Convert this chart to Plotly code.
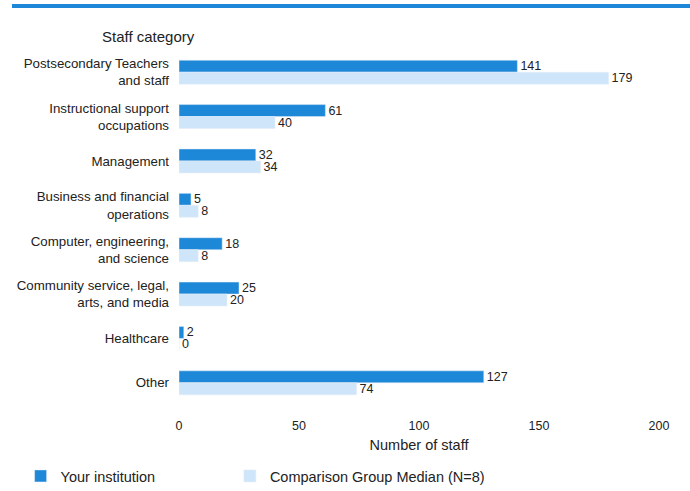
import plotly.graph_objects as go

# data
categories = [
    "Postsecondary Teachers<br>and staff",
    "Instructional support<br>occupations",
    "Management",
    "Business and financial<br>operations",
    "Computer, engineering,<br>and science",
    "Community service, legal,<br>arts, and media",
    "Healthcare",
    "Other",
]
your_institution = [141, 61, 32, 5, 18, 25, 2, 127]
comparison_median = [179, 40, 34, 8, 8, 20, 0, 74]
x_ticks = [0, 50, 100, 150, 200]

BLUE = "#1e88d8"
LIGHT = "#cfe6fa"
FONT = "Liberation Sans, Arial, sans-serif"

fig = go.Figure()
fig.add_trace(go.Bar(
    y=categories, x=your_institution, orientation="h",
    name="Your institution", marker_color=BLUE, legend="legend",
    text=your_institution, textposition="outside", constraintext="none",
    textfont=dict(size=12.5, color="#222"), cliponaxis=False,
))
fig.add_trace(go.Bar(
    y=categories, x=comparison_median, orientation="h",
    name="Comparison Group Median (N=8)", marker_color=LIGHT, legend="legend2",
    text=comparison_median, textposition="outside", constraintext="none",
    textfont=dict(size=12.5, color="#222"), cliponaxis=False,
))

legend_style = dict(orientation="h", y=-0.2, xanchor="left", yanchor="middle",
                    font=dict(size=14.5), bgcolor="rgba(0,0,0,0)")

fig.update_layout(
    width=690, height=491,
    margin=dict(l=179, r=31, t=50, b=86, autoexpand=False),
    barmode="group", bargap=0.46, bargroupgap=0,
    plot_bgcolor="white", paper_bgcolor="white",
    font=dict(family=FONT, size=12, color="#222"),
    showlegend=True,
    legend=dict(x=-0.33, **legend_style),
    legend2=dict(x=0.106, **legend_style),
    xaxis=dict(range=[0, 200], tickvals=x_ticks, showgrid=False, zeroline=False,
               showline=False, ticks="", tickfont=dict(size=12.5),
               ticklabelstandoff=11, automargin=False,
               title=dict(text="Number of staff", font=dict(size=14.5), standoff=8)),
    yaxis=dict(autorange="reversed", showgrid=False, showline=False, ticks="",
               ticklabelstandoff=9, tickfont=dict(size=13.3), automargin=False),
)

# header text and top rule
fig.add_annotation(text="Staff category", xref="paper", yref="paper",
                   x=-0.165, y=1.037, xanchor="left", yanchor="middle",
                   showarrow=False, font=dict(size=15))
fig.add_shape(type="line", xref="paper", yref="paper",
              x0=-0.348, x1=1.07, y0=1.124, y1=1.124,
              line=dict(color=BLUE, width=4))

# drop the default 8px body margin so the figure fills the window
fig.write_html("out.html", config={"displayModeBar": False},
               post_script="document.body.style.margin='0';")
